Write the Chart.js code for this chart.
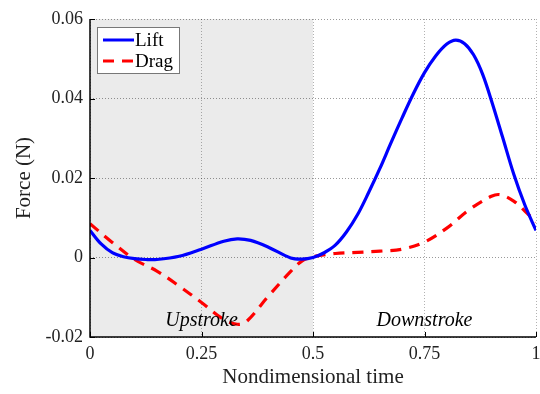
<!DOCTYPE html>
<html><head><meta charset="utf-8">
<script src="https://cdn.jsdelivr.net/npm/chart.js@4"></script>
<style>html,body{margin:0;padding:0;background:#fff}canvas{display:block}</style>
</head><body>
<canvas id="c" width="540" height="394"></canvas>
<script>
const liftT = [0,0.025,0.05,0.075,0.1,0.125,0.15,0.2,0.25,0.3,0.33,0.36,0.4,0.45,0.475,0.5,0.525,0.55,0.575,0.6,0.625,0.65,0.675,0.7,0.725,0.75,0.775,0.8,0.82,0.84,0.86,0.88,0.9,0.925,0.95,0.975,1];
const liftV = [0.0068,0.0034,0.0012,0.0002,-0.0003,-0.0005,-0.0005,0.0003,0.0021,0.0041,0.0047,0.0043,0.0026,-0.0001,-0.0004,0.0000,0.0012,0.0031,0.0064,0.0108,0.0164,0.0224,0.0289,0.0352,0.0412,0.0465,0.0507,0.0537,0.0547,0.0538,0.051,0.0462,0.0395,0.0303,0.021,0.0132,0.0068];
const dragT = [0,0.05,0.1,0.15,0.2,0.25,0.3,0.33,0.35,0.4,0.45,0.475,0.5,0.55,0.6,0.65,0.7,0.75,0.8,0.85,0.9,0.92,0.95,0.975,1];
const dragV = [0.0085,0.0038,-0.0005,-0.0034,-0.0072,-0.0113,-0.0156,-0.0168,-0.0162,-0.0097,-0.0035,-0.0009,0.0002,0.001,0.0013,0.0016,0.0021,0.0039,0.0074,0.012,0.0154,0.0158,0.0142,0.0117,0.0089];
const xTicks = [0,0.25,0.5,0.75,1];
const xTickLabels = ['0','0.25','0.5','0.75','1'];
const yTicks = [-0.02,0,0.02,0.04,0.06];
const yTickLabels = ['-0.02','0','0.02','0.04','0.06'];
const phases = [{label:'Upstroke', from:0, to:0.5, shade:'#ebebeb'},{label:'Downstroke', from:0.5, to:1, shade:null}];
const seriesNames = ['Lift','Drag'];

const FONT = '"Liberation Serif","Times New Roman",serif';

const bgPlugin = {
  id:'bg',
  beforeDraw(chart){
    const {ctx, chartArea:a, scales:{x,y}} = chart;
    ctx.save();
    phases.forEach(p=>{
      if(!p.shade) return;
      ctx.fillStyle = p.shade;
      const x0 = x.getPixelForValue(p.from), x1 = x.getPixelForValue(p.to);
      ctx.fillRect(x0, a.top, x1-x0, a.bottom-a.top);
    });
    ctx.restore();
  },
  afterDatasetsDraw(chart){
    const {ctx, chartArea:a, scales:{x,y}} = chart;
    ctx.save();
    ctx.font = 'italic 20px ' + FONT;
    ctx.fillStyle = '#000';
    ctx.textAlign = 'center';
    ctx.textBaseline = 'middle';
    phases.forEach(p=>{
      const cx = x.getPixelForValue((p.from+p.to)/2);
      ctx.fillText(p.label, cx, y.getPixelForValue(-0.0158));
    });
    ctx.strokeStyle = '#000';
    ctx.lineWidth = 1;
    ctx.beginPath();
    yTicks.forEach(v=>{const py=Math.round(y.getPixelForValue(v))+0.5; ctx.moveTo(a.left,py); ctx.lineTo(a.left+5,py);});
    xTicks.forEach(v=>{const px=Math.round(x.getPixelForValue(v))+0.5; ctx.moveTo(px,a.bottom); ctx.lineTo(px,a.bottom-5);});
    ctx.stroke();
    ctx.lineWidth = 1.5;
    ctx.beginPath();
    ctx.moveTo(a.left, a.top); ctx.lineTo(a.left, a.bottom); ctx.lineTo(a.right, a.bottom);
    ctx.stroke();
    const lx = 97, ly = 27, lw = 82, lh = 46;
    ctx.fillStyle = '#fff';
    ctx.fillRect(lx, ly, lw, lh);
    ctx.strokeStyle = '#777';
    ctx.lineWidth = 1;
    ctx.strokeRect(lx+0.5, ly+0.5, lw, lh);
    ctx.font = '19px ' + FONT;
    ctx.textAlign = 'left';
    chart.data.datasets.forEach((ds,i)=>{
      const yy = ly + 13 + i*21;
      ctx.strokeStyle = ds.borderColor;
      ctx.lineWidth = 3;
      ctx.setLineDash(ds.borderDash || []);
      ctx.beginPath(); ctx.moveTo(lx+6, yy); ctx.lineTo(lx+37, yy); ctx.stroke();
      ctx.setLineDash([]);
      ctx.fillStyle = '#000';
      ctx.fillText(ds.label, lx+38, yy+1);
    });
    ctx.restore();
  }
};

new Chart(document.getElementById('c'), {
  type:'line',
  data:{
    datasets:[
      {label:seriesNames[0], data:liftT.map((t,i)=>({x:t,y:liftV[i]})), borderColor:'#0000ff', borderWidth:3.2, pointRadius:0, tension:0.35, fill:false},
      {label:seriesNames[1], data:dragT.map((t,i)=>({x:t,y:dragV[i]})), borderColor:'#ff0000', borderWidth:3.2, borderDash:[11,8], pointRadius:0, tension:0.35, fill:false}
    ]
  },
  options:{
    responsive:false, animation:false,
    layout:{padding:{top:19, right:4, left:0, bottom:0}},
    plugins:{legend:{display:false}, tooltip:{enabled:false}},
    scales:{
      x:{type:'linear', min:0, max:1,
        afterBuildTicks(s){ s.ticks = xTicks.map(v=>({value:v})); },
        afterFit(s){ s.height = 57; s.paddingRight = 0; s.paddingLeft = 0; },
        ticks:{padding:6, color:'#222', font:{family:FONT, size:18}, maxRotation:0,
          callback:(v)=>{const i=xTicks.indexOf(v); return i>=0?xTickLabels[i]:'';}},
        grid:{drawTicks:false, color:'rgba(0,0,0,0.3)', lineWidth:1},
        border:{display:false, dash:[1,2]},
        title:{display:true, text:'Nondimensional time', color:'#222', font:{family:FONT, size:21}, padding:{top:2}}
      },
      y:{min:-0.02, max:0.06,
        afterBuildTicks(s){ s.ticks = yTicks.map(v=>({value:v})); },
        afterFit(s){ s.width = 90; s.paddingTop = 0; s.paddingBottom = 0; },
        ticks:{padding:7, color:'#222', font:{family:FONT, size:18},
          callback:(v)=>{const i=yTicks.findIndex(t=>Math.abs(t-v)<1e-9); return i>=0?yTickLabels[i]:'';}},
        grid:{drawTicks:false, color:'rgba(0,0,0,0.4)', lineWidth:1},
        border:{display:false, dash:[1,2]},
        title:{display:true, text:'Force (N)', color:'#222', font:{family:FONT, size:21}, padding:{top:12, bottom:0}}
      }
    }
  },
  plugins:[bgPlugin]
});
</script>
</body></html>
